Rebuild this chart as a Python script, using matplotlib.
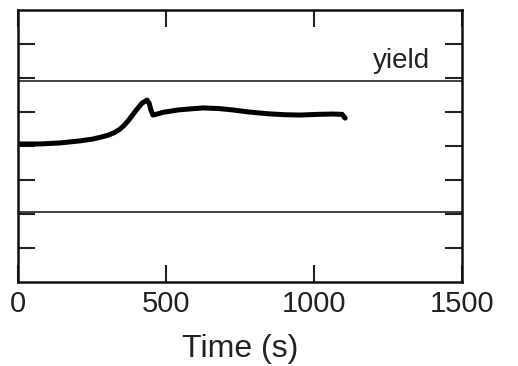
import matplotlib
matplotlib.use("Agg")
import matplotlib.pyplot as plt

plt.rcParams['font.family'] = ['Liberation Sans', 'DejaVu Sans']

# Measured response (arbitrary strain units, zero-centred) versus time
time_s = [0, 74, 142, 209, 250, 280, 305, 325, 342, 358, 372, 386, 400,
          419, 436, 443, 449, 456, 470, 490, 541, 581, 625, 680, 726, 780,
          841, 900, 953, 1010, 1064, 1095, 1105]
response = [0.06, 0.06, 0.09, 0.15, 0.20, 0.26, 0.32, 0.39, 0.48, 0.60,
            0.74, 0.90, 1.06, 1.26, 1.35, 1.26, 1.06, 0.91, 0.94, 0.99,
            1.06, 1.09, 1.12, 1.10, 1.06, 1.00, 0.95, 0.92, 0.91, 0.93,
            0.94, 0.93, 0.82]

# Yield limits (upper / lower)
yield_upper = 1.91
yield_lower = -1.94

x_ticks = [0, 500, 1000, 1500]
x_tick_labels = ["0", "500", "1000", "1500"]
y_ticks = [-3, -2, -1, 0, 1, 2, 3]

fig = plt.figure(figsize=(5.18, 3.66), dpi=100)
ax = fig.add_axes([0.0347, 0.2295, 0.8573, 0.7432])

ax.plot(time_s, response, color="black", lw=3.6, solid_capstyle="round",
        solid_joinstyle="round")
ax.axhline(yield_upper, color="#222222", lw=1.2)
ax.axhline(yield_lower, color="#222222", lw=1.2)

ax.text(1392, yield_upper + 0.38, "yield", fontsize=20, color="#222222",
        ha="right", va="baseline")

ax.set_xlim(0, 1500)
ax.set_ylim(-4, 4)
ax.set_xticks(x_ticks)
ax.set_xticklabels(x_tick_labels)
ax.set_yticks(y_ticks)
ax.set_yticklabels([])

ax.tick_params(axis="x", direction="in", length=12, width=1.5, top=True,
               bottom=True, labelsize=21, pad=6, colors="#222222")
ax.tick_params(axis="y", direction="in", length=12, width=1.5, left=True,
               right=True, colors="#222222")

for s in ax.spines.values():
    s.set_linewidth(1.8)
    s.set_color("#111111")

ax.set_xlabel("Time (s)", fontsize=23, color="#222222", labelpad=11)

fig.savefig("out.png", dpi=100)
